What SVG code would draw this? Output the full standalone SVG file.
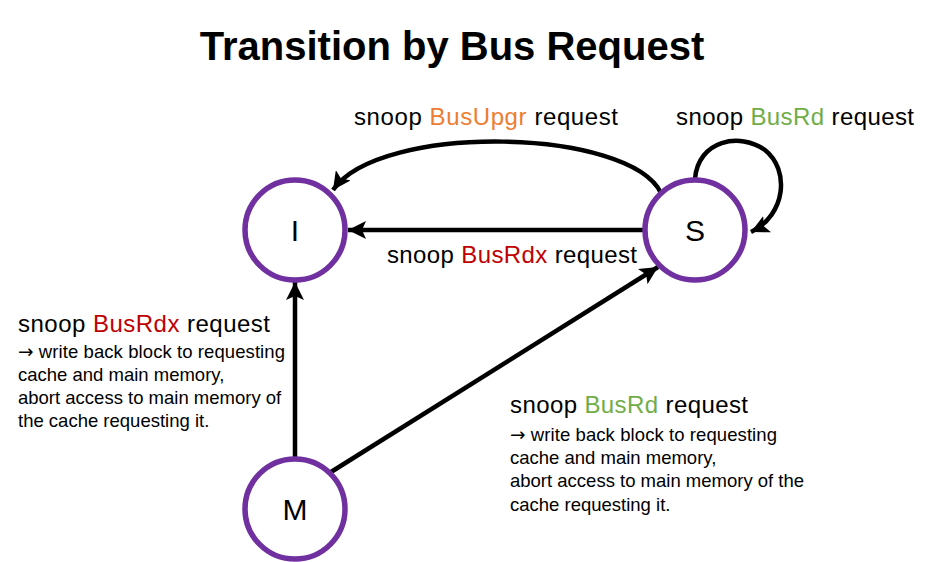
<svg xmlns="http://www.w3.org/2000/svg" width="934" height="562" viewBox="0 0 934 562">
<style>
.node{fill:#fff;stroke:#7030A0;stroke-width:5.5}
.lbl{font-family:"Liberation Sans",Arial,sans-serif;fill:#000}
.big{font-size:24px}
.sm{font-size:18.5px}
.st{font-size:30px;text-anchor:middle}
.edge{fill:none;stroke:#000;stroke-width:4.5}
.red{fill:#C00000}
.grn{fill:#70AD47}
.org{fill:#ED7D31}
.arr{font-family:"DejaVu Sans",sans-serif}
</style>
<defs>
<marker id="ah" markerUnits="userSpaceOnUse" markerWidth="20" markerHeight="18" viewBox="0 0 20 18" refX="18" refY="9" orient="auto">
<path d="M0,0 L18,9 L0,18 L4,9 z" fill="#000"/>
</marker>
</defs>
<rect width="934" height="562" fill="#fff"/>
<text x="452" y="60" class="lbl" font-size="40" font-weight="bold" text-anchor="middle">Transition by Bus Request</text>
<g id="connectors">
<path class="edge" d="M661,193 C630,128 380,122 333,190" marker-end="url(#ah)"/>
<path class="edge" d="M695,179 C698,140 740,132 765,150 C790,170 786,215 751,232" marker-end="url(#ah)"/>
<path class="edge" d="M643,230 L348,230" marker-end="url(#ah)"/>
<path class="edge" d="M295,457 L295,282" marker-end="url(#ah)"/>
<path class="edge" d="M331,472 L658,267" marker-end="url(#ah)"/>
</g>
<g id="node-I">
<circle class="node" cx="295" cy="230" r="50"/>
<text x="295" y="241" class="lbl st">I</text>
</g>
<g id="node-S">
<circle class="node" cx="695" cy="230" r="50"/>
<text x="695" y="241" class="lbl st">S</text>
</g>
<g id="node-M">
<circle class="node" cx="295" cy="509" r="50"/>
<text x="295" y="520" class="lbl st">M</text>
</g>
<g id="labels">
<text x="354" y="125" class="lbl big" textLength="264">snoop <tspan class="org">BusUpgr</tspan> request</text>
<text x="676" y="125" class="lbl big" textLength="238">snoop <tspan class="grn">BusRd</tspan> request</text>
<text x="387" y="263" class="lbl big" textLength="250">snoop <tspan class="red">BusRdx</tspan> request</text>
<text x="18" y="332" class="lbl big" textLength="252">snoop <tspan class="red">BusRdx</tspan> request</text>
<text x="18" y="358" class="lbl sm" textLength="267"><tspan class="arr">→</tspan> write back block to requesting</text>
<text x="18" y="381" class="lbl sm">cache and main memory,</text>
<text x="18" y="404" class="lbl sm">abort access to main memory of</text>
<text x="18" y="427" class="lbl sm">the cache requesting it.</text>
<text x="510" y="413" class="lbl big" textLength="238">snoop <tspan class="grn">BusRd</tspan> request</text>
<text x="510" y="441" class="lbl sm" textLength="267"><tspan class="arr">→</tspan> write back block to requesting</text>
<text x="510" y="464" class="lbl sm">cache and main memory,</text>
<text x="510" y="487" class="lbl sm">abort access to main memory of the</text>
<text x="510" y="511" class="lbl sm">cache requesting it.</text>
</g>
</svg>
